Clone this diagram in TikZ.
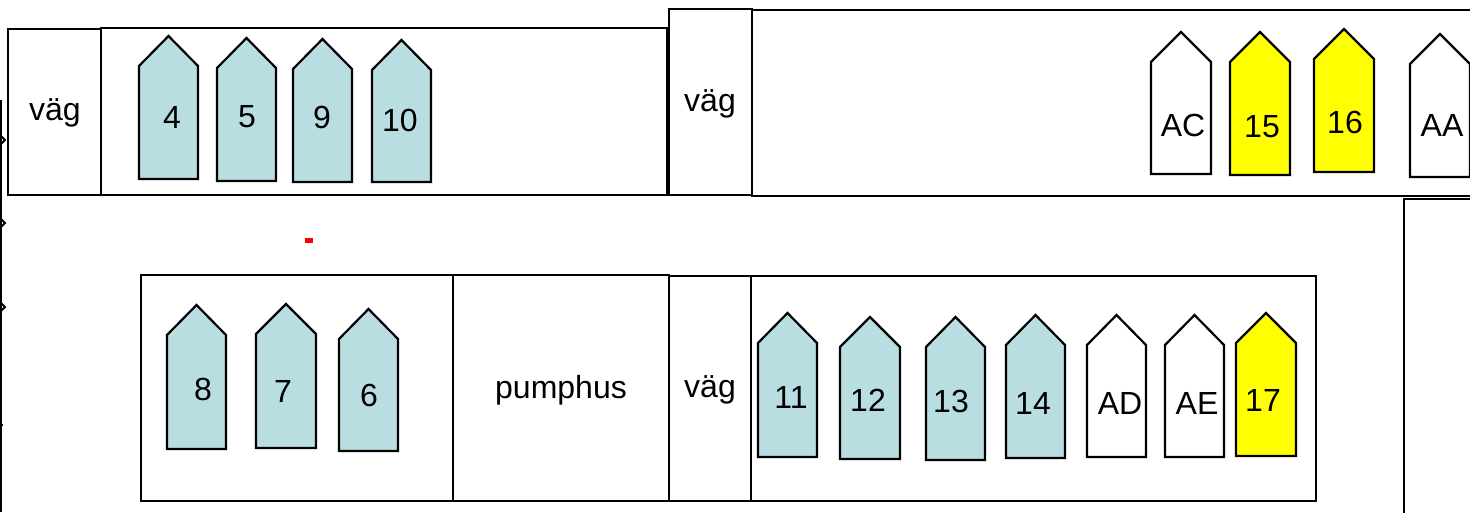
\documentclass[tikz,border=0pt]{standalone}
\usepackage{fontspec}
\setmainfont{Liberation Sans}
\definecolor{boatblue}{RGB}{185,222,226}
\definecolor{boatyellow}{RGB}{255,255,0}
\tikzset{
  boxline/.style={draw=black, line width=1.6pt},
  boatline/.style={draw=black, line width=2.2pt, line join=miter},
  lbl/.style={font=\fontsize{32}{38}\selectfont, inner sep=0pt, anchor=center},
  marker/.style={draw=black, line width=1.8pt}
}
% name, x1, x2, apex, bottom, fill, label, lx, ly
\newcommand\boat[9]{%
  \draw[boatline, fill=#6] (#2,#5) -- (#2,#4+30) -- ({(#2+#3)/2},#4) -- (#3,#4+30) -- (#3,#5) -- cycle;
  \node[lbl] (#1) at (#8,#9) {#7};
}
\begin{document}
\begin{tikzpicture}[x=1pt,y=-1pt]
\useasboundingbox (0,0) rectangle (1470,512);
\fill[white] (0,0) rectangle (1470,512);

% left edge line with markers
\draw[marker] (1,100) -- (1,512);
\foreach \yy in {140,223,307} \draw[marker] (1,\yy-4) -- (5,\yy) -- (1,\yy+4);
\draw[marker] (1,425) -- (3,425);

% top row boxes
\draw[boxline] (8,29) rectangle (101,195);
\node[lbl] (vag1) at (55,113) {väg};
\draw[boxline] (101,28) rectangle (667,195);
\draw[boxline] (669,9) rectangle (752,195);
\node[lbl] (vag2) at (710,104) {väg};
\draw[boxline] (1472,10) -- (752,10) -- (752,196) -- (1472,196);
\draw[boxline] (1472,199) -- (1404,199) -- (1404,514);

% bottom row boxes
\draw[boxline] (141,275) rectangle (453,501);
\draw[boxline] (453,275) rectangle (669,501);
\node[lbl] (pump) at (561,390) {pumphus};
\draw[boxline] (669,276) rectangle (751,501);
\node[lbl] (vag3) at (710,390) {väg};
\draw[boxline] (751,276) rectangle (1316,501);

% red dash
\fill[red] (305,238) rectangle (313,243);

% top-left boats
\boat{b4}{139}{198}{36}{179}{boatblue}{4}{172}{117}
\boat{b5}{217}{276}{38}{181}{boatblue}{5}{247}{117}
\boat{b9}{293}{352}{39}{182}{boatblue}{9}{322}{117}
\boat{b10}{372}{431}{40}{182}{boatblue}{10}{400}{120}

% top-right boats
\boat{bAC}{1151}{1211}{32}{174}{white}{AC}{1183}{125}
\boat{b15}{1230}{1290}{32}{175}{boatyellow}{15}{1262}{127}
\boat{b16}{1314}{1374}{29}{172}{boatyellow}{16}{1345}{122}
\boat{bAA}{1410}{1470}{34}{177}{white}{AA}{1442}{125}

% bottom-left boats
\boat{b8}{167}{226}{305}{449}{boatblue}{8}{203}{389}
\boat{b7}{256}{316}{304}{448}{boatblue}{7}{283}{391}
\boat{b6}{339}{398}{309}{451}{boatblue}{6}{369}{395}

% bottom-right boats
\boat{b11}{758}{817}{313}{457}{boatblue}{11}{791}{397}
\boat{b12}{840}{900}{317}{459}{boatblue}{12}{868}{400}
\boat{b13}{926}{985}{317}{460}{boatblue}{13}{951}{401}
\boat{b14}{1006}{1065}{315}{458}{boatblue}{14}{1033}{403}
\boat{bAD}{1087}{1146}{315}{457}{white}{AD}{1120}{403}
\boat{bAE}{1165}{1224}{315}{457}{white}{AE}{1197}{403}
\boat{b17}{1236}{1296}{313}{456}{boatyellow}{17}{1263}{400}
\end{tikzpicture}
\end{document}
